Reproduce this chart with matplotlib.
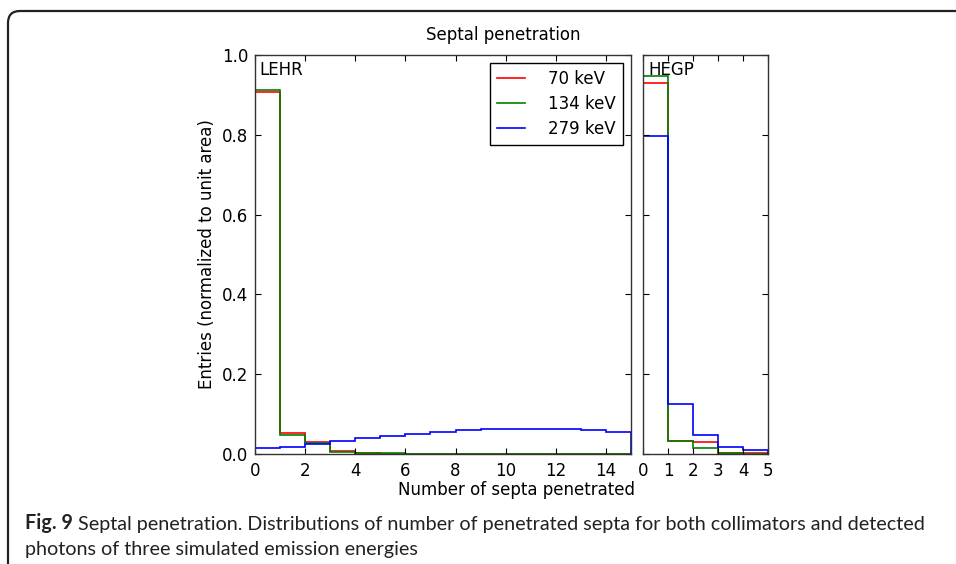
import numpy as np
import matplotlib
matplotlib.use("Agg")
import matplotlib.pyplot as plt
from matplotlib.patches import FancyBboxPatch

# ---------------- data ----------------
lehr_edges = np.arange(0, 16)
hegp_edges = np.arange(0, 6)
labels = ["70 keV", "134 keV", "279 keV"]
colors = ["red", "green", "blue"]

lehr_70 = [0.907, 0.053, 0.029, 0.007, 0.002, 0.001, 0.0005, 0.0003, 0.0002, 0.0001, 0.0001, 0.0, 0.0, 0.0, 0.0]
lehr_134 = [0.912, 0.047, 0.027, 0.006, 0.003, 0.002, 0.001, 0.0005, 0.0002, 0.0001, 0.0, 0.0, 0.0, 0.0, 0.0]
lehr_279 = [0.015, 0.018, 0.025, 0.033, 0.039, 0.046, 0.051, 0.054, 0.059, 0.063, 0.063, 0.063, 0.062, 0.059, 0.055]

hegp_70 = [0.931, 0.033, 0.031, 0.002, 0.003]
hegp_134 = [0.947, 0.033, 0.015, 0.003, 0.001]
hegp_279 = [0.796, 0.125, 0.047, 0.017, 0.009]

lehr_xticks = [0, 2, 4, 6, 8, 10, 12, 14]
hegp_xticks = [0, 1, 2, 3, 4, 5]
yticks = [0.0, 0.2, 0.4, 0.6, 0.8, 1.0]

title = "Septal penetration"
xlabel = "Number of septa penetrated"
ylabel = "Entries (normalized to unit area)"
caption_bold = "Fig. 9"
caption_rest = " Septal penetration. Distributions of number of penetrated septa for both collimators and detected"
caption_line2 = "photons of three simulated emission energies"

# ---------------- style ----------------
plt.rcParams["font.family"] = ["DejaVu Sans"]
plt.rcParams["font.size"] = 12
plt.rcParams["xtick.direction"] = "in"
plt.rcParams["ytick.direction"] = "in"
plt.rcParams["xtick.top"] = True
plt.rcParams["ytick.right"] = True
plt.rcParams["xtick.major.size"] = 4
plt.rcParams["ytick.major.size"] = 4
plt.rcParams["xtick.major.pad"] = 5.5
plt.rcParams["ytick.major.pad"] = 5
plt.rcParams["axes.linewidth"] = 1.0

W, H = 956, 564
fig = plt.figure(figsize=(W / 100, H / 100), dpi=100, facecolor="white")

# border frame (pixel-unit overlay axes)
bg = fig.add_axes([0, 0, 1, 1], zorder=-5)
bg.set_xlim(0, W)
bg.set_ylim(H, 0)
bg.axis("off")
frame = FancyBboxPatch((8, 11), 1100, 700,
                       boxstyle="round,pad=0,rounding_size=12",
                       fc="none", ec="#222222", lw=1.6)
bg.add_patch(frame)

def px_axes(x0, x1, y0, y1):
    return fig.add_axes([x0 / W, 1 - y1 / H, (x1 - x0) / W, (y1 - y0) / H])

ax1 = px_axes(255, 631, 55, 454)
ax2 = px_axes(643, 768, 55, 454)

for vals, c, lab in zip([lehr_70, lehr_134, lehr_279], colors, labels):
    ax1.stairs(vals, lehr_edges, color=c, lw=1.2, label=lab)
for vals, c, lab in zip([hegp_70, hegp_134, hegp_279], colors, labels):
    ax2.stairs(vals, hegp_edges, color=c, lw=1.2, label=lab)

ax1.set_xlim(0, 15)
ax1.set_ylim(0, 1.0)
ax1.set_xticks(lehr_xticks)
ax1.set_yticks(yticks)
ax1.set_yticklabels([f"{v:.1f}" for v in yticks])
ax1.set_ylabel(ylabel, labelpad=4)

ax2.set_xlim(0, 5)
ax2.set_ylim(0, 1.0)
ax2.set_xticks(hegp_xticks)
ax2.set_yticks(yticks)
ax2.set_yticklabels([])

for a in (ax1, ax2):
    for s in a.spines.values():
        s.set_color("#333333")

ax1.text(0.012, 0.985, "LEHR", transform=ax1.transAxes, ha="left", va="top", fontsize=12)
ax2.text(0.04, 0.985, "HEGP", transform=ax2.transAxes, ha="left", va="top", fontsize=12)

leg = ax1.legend(loc="upper right", frameon=True,
                 fancybox=False, edgecolor="black", fontsize=12,
                 handlelength=1.7, handletextpad=1.35, borderpad=0.42,
                 labelspacing=0.42, borderaxespad=0.5)
leg.get_frame().set_linewidth(1.0)
leg.get_frame().set_alpha(1)

fig.text(503 / W, 1 - 35 / H, title, ha="center", va="center", fontsize=12)
fig.text(517 / W, 1 - 490 / H, xlabel, ha="center", va="center", fontsize=12)

cap_fam = ["Lato", "DejaVu Sans"]
cap_fs = 14.2
t1 = fig.text(25 / W, 1 - 529 / H, caption_bold, ha="left", va="baseline",
              fontsize=cap_fs, fontweight="bold", family=cap_fam, color="#222222")
plt.annotate(caption_rest, xy=(1, 0), xycoords=t1, ha="left", va="bottom",
             fontsize=cap_fs, family=cap_fam, annotation_clip=False, color="#222222")
fig.text(25 / W, 1 - 555 / H, caption_line2, ha="left", va="baseline",
         fontsize=cap_fs, family=cap_fam, color="#222222")

fig.savefig("out.png", dpi=100, facecolor="white")
